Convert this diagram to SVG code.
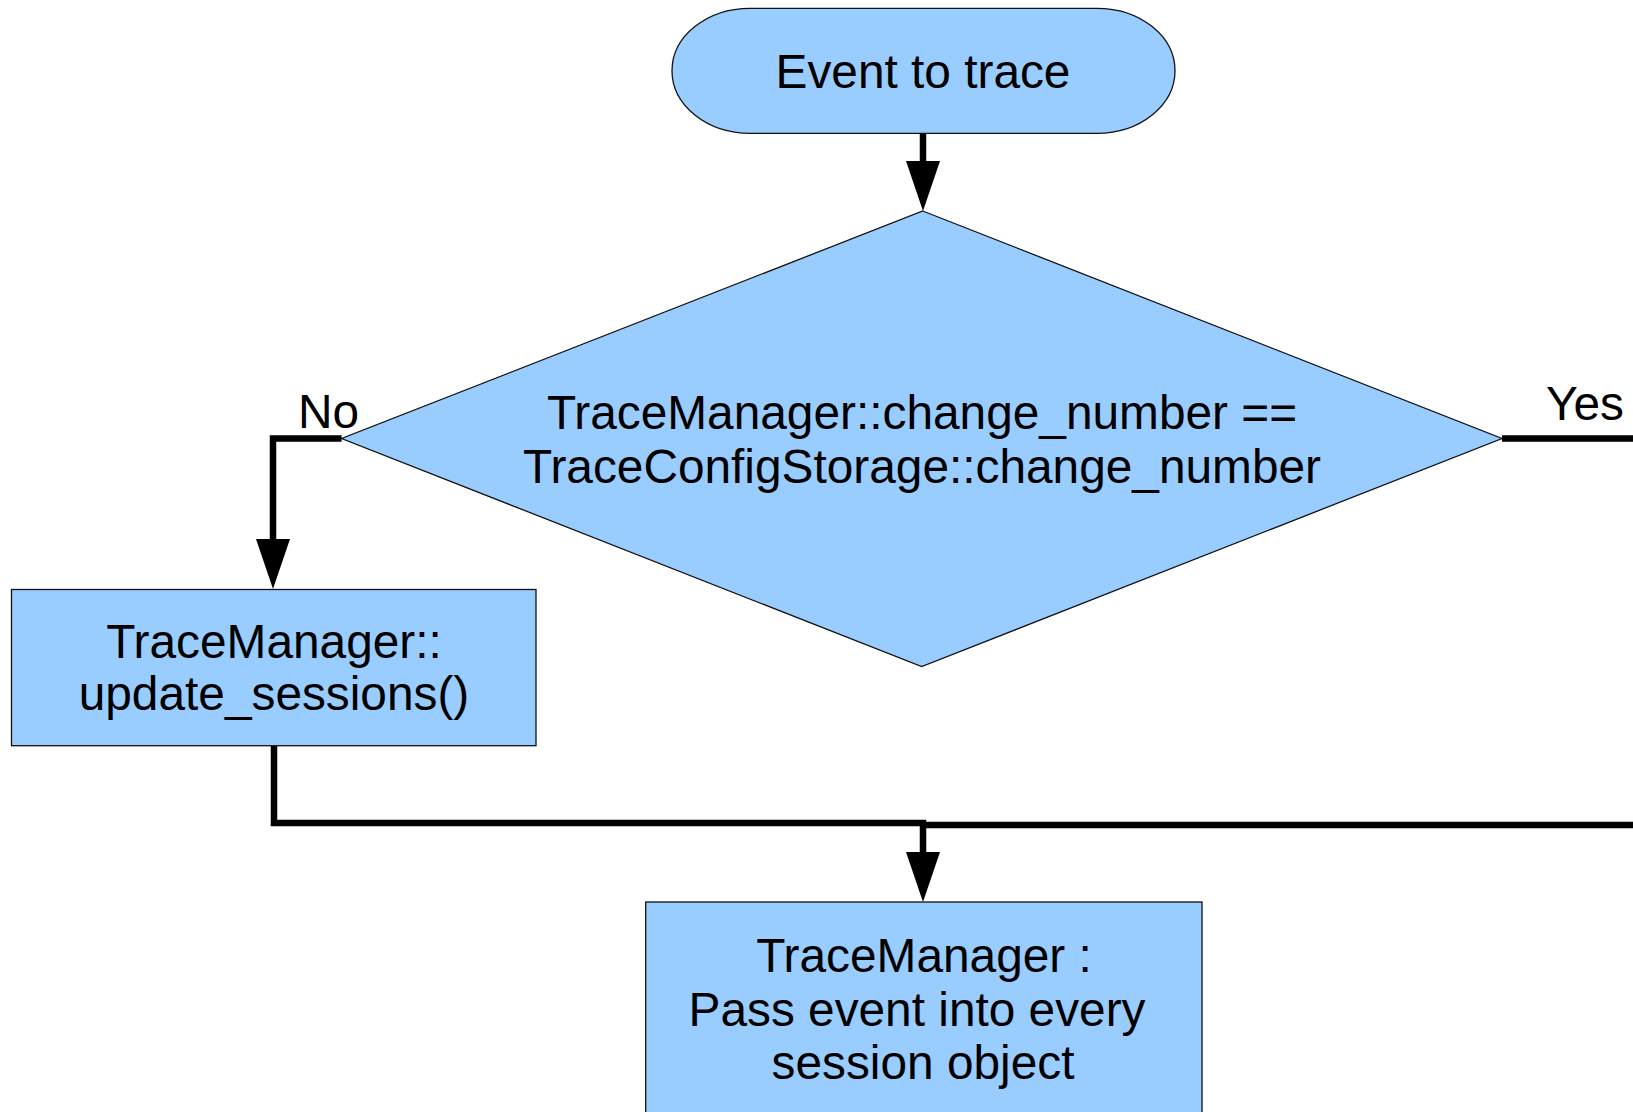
<svg xmlns="http://www.w3.org/2000/svg" width="1633" height="1112" viewBox="0 0 1633 1112">
<style>
.node{fill:#99ccff;stroke:#111;stroke-width:1.3}
.t{font-family:"Liberation Sans",Arial,sans-serif;font-size:47.8px;fill:#000;text-anchor:middle}
.lbl{font-family:"Liberation Sans",Arial,sans-serif;font-size:47.8px;fill:#000}
.c{fill:none;stroke:#000;stroke-width:6.5}
</style>
<defs>
<marker id="ah" viewBox="0 0 50 34" refX="5" refY="17" markerWidth="50" markerHeight="34" markerUnits="userSpaceOnUse" orient="auto">
<path d="M0,0 L50,17 L0,34 Z" fill="#000"/>
</marker>
</defs>
<rect width="1633" height="1112" fill="#fff"/>
<g id="connectors">
<path class="c" d="M923,133.5 V166" marker-end="url(#ah)"/>
<path class="c" d="M341.6,438.5 H273 V544" marker-end="url(#ah)"/>
<path class="c" d="M1502,438.5 H1645 V825 H923"/>
<path class="c" d="M274,745.7 V823 H923 V857" marker-end="url(#ah)"/>
</g>
<g id="start">
<rect class="node" x="672" y="8.3" width="503" height="125" rx="78" ry="62.5"/>
<text class="t" x="923" y="88">Event to trace</text>
</g>
<g id="decision">
<polygon class="node" points="922.8,211 1502,438.5 921.7,666.6 341.6,438.5"/>
<text class="t" x="922" y="429">TraceManager::change_number ==</text>
<text class="t" x="922" y="483">TraceConfigStorage::change_number</text>
</g>
<g id="label-no"><text class="lbl" x="298" y="428">No</text></g>
<g id="label-yes"><text class="lbl" x="1546" y="420">Yes</text></g>
<g id="update">
<rect class="node" x="11.5" y="589.5" width="524.5" height="156.2"/>
<text class="t" x="274" y="658">TraceManager::</text>
<text class="t" x="274" y="710">update_sessions()</text>
</g>
<g id="pass">
<rect class="node" x="645.7" y="902" width="556.3" height="240"/>
<text class="t" x="924" y="972">TraceManager :</text>
<text class="t" x="917" y="1026">Pass event into every</text>
<text class="t" x="923" y="1079">session object</text>
</g>
</svg>
